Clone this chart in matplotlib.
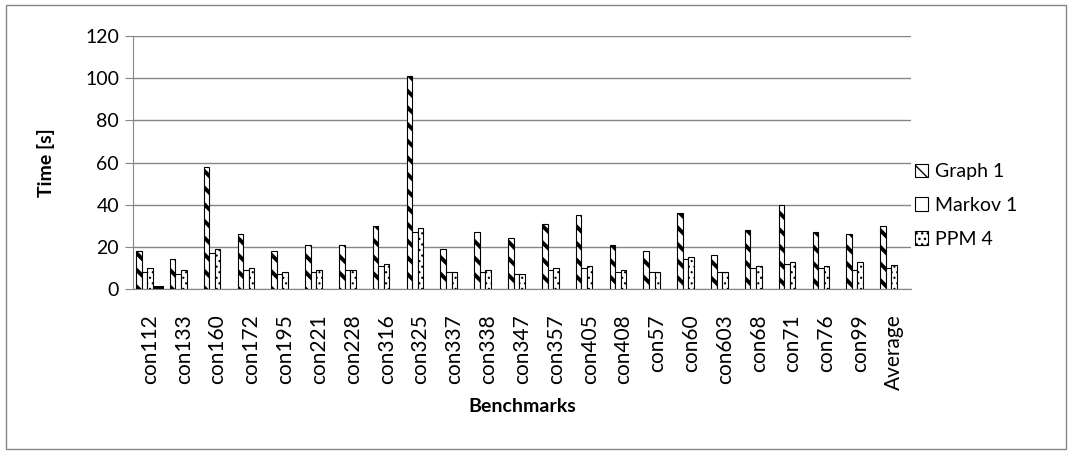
import numpy as np
import matplotlib.pyplot as plt
from matplotlib.patches import Rectangle

# benchmark runtimes (seconds)
benchmarks = ["con112", "con133", "con160", "con172", "con195", "con221", "con228",
              "con316", "con325", "con337", "con338", "con347", "con357", "con405",
              "con408", "con57", "con60", "con603", "con68", "con71", "con76", "con99",
              "Average"]
graph1 = [18, 14, 58, 26, 18, 21, 21, 30, 101, 19, 27, 24, 31, 35, 21, 18, 36, 16, 28, 40, 27, 26, 30]
markov1 = [8, 7, 17, 9, 7, 8, 9, 11, 27, 8, 8, 7, 9, 10, 8, 8, 14, 8, 10, 12, 10, 9, 10]
ppm4 = [10, 9, 19, 10, 8, 9, 9, 12, 29, 8, 9, 7, 10, 11, 9, 8, 15, 8, 11, 13, 11, 13, 11.3]
# two unlabeled series, only present for con112
extra1 = [1.2] + [0] * 22
extra2 = [1.2] + [0] * 22

W, H, DPI = 1071, 454, 100
plt.rcParams["font.family"] = ["Lato", "DejaVu Sans"]
plt.rcParams["font.size"] = 14

fig = plt.figure(figsize=(W / DPI, H / DPI), dpi=DPI)
ax = fig.add_axes([133 / W, (H - 289) / H, (911 - 133) / W, (289 - 36) / H])

GRAY = "#868686"
x = np.arange(len(benchmarks))
bw = 0.164


def bars(vals, k, **kw):
    hlw = kw.pop("hatch_lw", 1.0)
    with plt.rc_context({"hatch.linewidth": hlw}):
        cont = ax.bar(x + (k - 2) * bw, vals, bw, **kw)
    for p in cont:
        if hasattr(p, "set_hatch_linewidth"):
            p.set_hatch_linewidth(hlw)
    return cont


b1 = bars(graph1, 0, facecolor="white", edgecolor="black", linewidth=0.8,
          hatch="\\\\", hatch_lw=2.8, label="Graph 1")
b2 = bars(markov1, 1, facecolor="white", edgecolor="black", linewidth=0.8,
          label="Markov 1")
b3 = bars(ppm4, 2, facecolor="white", edgecolor="black", linewidth=0.8,
          hatch="...", hatch_lw=0.8, label="PPM 4")
bars(extra1, 3, facecolor="black", linewidth=0)
bars(extra2, 4, facecolor="black", linewidth=0)

ax.set_xlim(-0.5, len(benchmarks) - 0.5)
ax.set_ylim(0, 120)
ax.set_yticks(range(0, 121, 20))
ax.yaxis.grid(True, color=GRAY, linewidth=1)
ax.set_axisbelow(True)
for s in ("top", "right"):
    ax.spines[s].set_visible(False)
for s in ("left", "bottom"):
    ax.spines[s].set_color(GRAY)
ax.tick_params(axis="y", length=6, color=GRAY, pad=4)
ax.set_xticks(x)
ax.set_xticklabels(benchmarks, rotation=90)
ax.tick_params(axis="x", length=0, pad=18, labelsize=15)

ax.set_ylabel("Time [s]", fontweight="bold", labelpad=22)
ax.set_xlabel("Benchmarks", fontweight="bold", labelpad=6)

ax.legend(handles=[b1, b2, b3], loc="center left", bbox_to_anchor=(0.995, 0.33),
          frameon=False, handlelength=0.7, handleheight=0.7, handletextpad=0.35,
          labelspacing=0.85, borderaxespad=0.0)

# chart border
fig.patches.append(Rectangle((6 / W, 5 / H), (1066 - 6) / W, (449 - 5) / H,
                             transform=fig.transFigure, fill=False,
                             edgecolor=GRAY, linewidth=1))

fig.savefig("out.png", dpi=DPI)
